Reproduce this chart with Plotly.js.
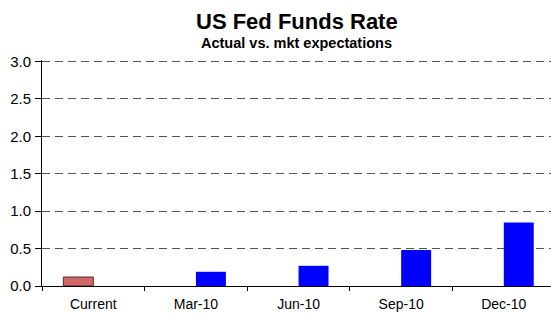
<!DOCTYPE html>
<html><head><meta charset="utf-8">
<script src="https://cdn.plot.ly/plotly-3.0.1.min.js"></script>
<style>html,body{margin:0;padding:0;background:#fff}#c{width:551px;height:314px}</style>
</head><body><div id="c"></div>
<script>
var categories = ["Current", "Mar-10", "Jun-10", "Sep-10", "Dec-10"];
var actual = [0.12, null, null, null, null];
var expected = [null, 0.19, 0.27, 0.48, 0.85];
var yTicks = [0, 0.5, 1.0, 1.5, 2.0, 2.5, 3.0];
var titleText = "US Fed Funds Rate";
var subtitleText = "Actual vs. mkt expectations";

var traces = [
  {type: "bar", name: "Actual", x: categories, y: actual,
   marker: {color: "#D06868", line: {color: "#5A2A2A", width: 1}}},
  {type: "bar", name: "Market expectations", x: categories, y: expected,
   marker: {color: "#0000FF", line: {width: 0}}}
];
var layout = {
  width: 551, height: 314,
  margin: {l: 42, r: 0, t: 60, b: 28},
  paper_bgcolor: "#fff", plot_bgcolor: "#fff",
  font: {family: "Liberation Sans, Arial, sans-serif", color: "#000"},
  showlegend: false,
  barmode: "group", bargap: 0.416, bargroupgap: 0,
  xaxis: {type: "category", range: [-0.5, 4.46], tickson: "boundaries",
    ticks: "outside", ticklen: 4, tickcolor: "#000", showline: true,
    linecolor: "#000", linewidth: 1, showgrid: false, zeroline: false,
    ticklabelstandoff: 5, tickfont: {size: 14}},
  yaxis: {range: [0, 3.02], tickvals: yTicks, tickformat: ".1f",
    ticks: "outside", ticklen: 6, tickcolor: "#000", showline: true,
    linecolor: "#000", linewidth: 1, showgrid: true, gridcolor: "#555",
    griddash: "8px,5px", gridwidth: 1, zeroline: false,
    ticklabelstandoff: 1, tickfont: {size: 15}},
  annotations: [
    {text: "<b>" + titleText + "</b>", xref: "paper", yref: "paper", x: 0.5,
     y: 1.172, xanchor: "center", yanchor: "middle", showarrow: false,
     font: {size: 22}},
    {text: "<b>" + subtitleText + "</b>", xref: "paper", yref: "paper", x: 0.5,
     y: 1.074, xanchor: "center", yanchor: "middle", showarrow: false,
     font: {size: 14.5}}
  ]
};
Plotly.newPlot("c", traces, layout, {displayModeBar: false, staticPlot: true});
</script></body></html>
